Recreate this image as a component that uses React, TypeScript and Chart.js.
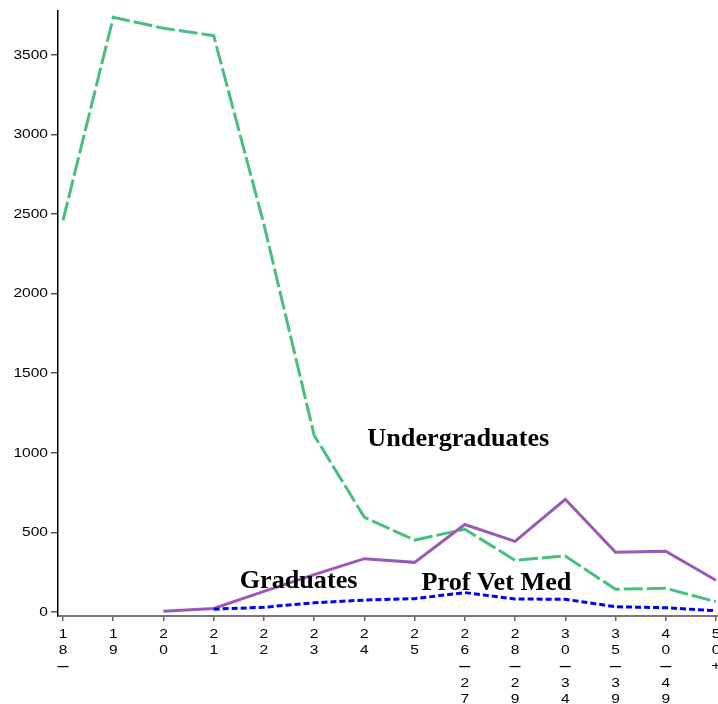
import React, { useEffect, useRef } from "react";
import { Chart, registerables } from "chart.js";

Chart.register(...registerables);

const categories = ["18-", "19", "20", "21", "22", "23", "24", "25", "26-27", "28-29", "30-34", "35-39", "40-49", "50+"];
const undergraduates = [2460, 3735, 3667, 3620, 2435, 1110, 595, 452, 520, 325, 352, 143, 149, 65];
const graduates: (number | null)[] = [null, null, 5, 22, 130, 235, 335, 312, 550, 444, 708, 375, 382, 200];
const profVetMed: (number | null)[] = [null, null, null, 18, 30, 58, 75, 84, 122, 82, 80, 33, 27, 8];
const yTicks = [0, 500, 1000, 1500, 2000, 2500, 3000, 3500];

const annotationTexts = ["Undergraduates", "Graduates", "Prof Vet Med"];
const annotationX = [7.87, 4.69, 8.63];
const annotationY = [1040, 150, 137];

const toPoints = (arr: (number | null)[]) => arr.map((v, i) => ({ x: i, y: v }));

const DASH = "\u2014";
const labelFor = (v: number): string[] => {
  const c = categories[Math.round(v)];
  if (c === undefined) return [];
  return c.replace("-", DASH).split("");
};

const TICK_FONT = '13.5px "Liberation Sans", Arial, sans-serif';
const DASH_FONT = 'bold 13px "Liberation Sans", Arial, sans-serif';
const STRETCH = 1.15;
const DASH_STRETCH = 0.85;
const LINE_H = 16.3;

const annotationPlugin = {
  id: "textAnnotations",
  afterDatasetsDraw(chart: any) {
    const { ctx, scales } = chart;
    ctx.save();
    ctx.font = 'bold 26.2px "Liberation Serif"';
    ctx.fillStyle = "#000";
    ctx.textAlign = "center";
    ctx.textBaseline = "alphabetic";
    annotationTexts.forEach((t, i) => {
      ctx.fillText(t, scales.x.getPixelForValue(annotationX[i]), scales.y.getPixelForValue(annotationY[i]));
    });
    ctx.restore();
  },
};

const tickLabelPlugin = {
  id: "stretchedTickLabels",
  afterDraw(chart: any) {
    const { ctx, scales, chartArea } = chart;
    const xs = scales.x;
    const ys = scales.y;
    ctx.save();
    ctx.fillStyle = "#000";
    ctx.textBaseline = "middle";
    xs.ticks.forEach((t: any, i: number) => {
      const px = xs.getPixelForTick(i);
      labelFor(t.value).forEach((ch, j) => {
        const isDash = ch === DASH;
        ctx.save();
        ctx.translate(px, xs.top + 18 + j * LINE_H);
        ctx.scale(isDash ? DASH_STRETCH : STRETCH, 1);
        ctx.font = isDash ? DASH_FONT : TICK_FONT;
        ctx.textAlign = "center";
        ctx.fillText(ch, 0, 0);
        ctx.restore();
      });
    });
    ys.ticks.forEach((t: any, i: number) => {
      const py = ys.getPixelForTick(i);
      ctx.save();
      ctx.translate(chartArea.left - 10, py);
      ctx.scale(STRETCH, 1);
      ctx.font = TICK_FONT;
      ctx.textAlign = "right";
      ctx.fillText(String(t.value), 0, 0);
      ctx.restore();
    });
    ctx.restore();
  },
};

export default function App() {
  const ref = useRef<HTMLCanvasElement | null>(null);
  useEffect(() => {
    if (!ref.current) return;
    const chart = new Chart(ref.current, {
      type: "line",
      data: {
        datasets: [
          {
            label: "Prof Vet Med",
            data: toPoints(profVetMed),
            borderColor: "#0000ff",
            borderWidth: 3,
            borderDash: [6, 3],
            pointRadius: 0,
            tension: 0,
            order: 0,
          },
          {
            label: "Graduates",
            data: toPoints(graduates),
            borderColor: "#9b59b6",
            borderWidth: 3,
            pointRadius: 0,
            tension: 0,
            order: 1,
          },
          {
            label: "Undergraduates",
            data: toPoints(undergraduates),
            borderColor: "#47c07f",
            borderWidth: 3,
            borderDash: [19, 4],
            pointRadius: 0,
            tension: 0,
            order: 2,
          },
        ],
      } as any,
      options: {
        animation: false,
        responsive: false,
        layout: { padding: { top: 11, right: 34, left: 0, bottom: 0 } },
        plugins: { legend: { display: false }, tooltip: { enabled: false } },
        scales: {
          x: {
            type: "linear",
            min: -0.1,
            max: 13.2,
            afterBuildTicks: (s: any) => {
              s.ticks = categories.map((_, i) => ({ value: i }));
            },
            afterFit: (s: any) => {
              s.height = 88;
            },
            ticks: { display: false },
            grid: { drawOnChartArea: false, drawTicks: true, tickLength: 5, color: "#666", lineWidth: 1.5 },
            border: { color: "#777", width: 2 },
          },
          y: {
            type: "linear",
            min: -25,
            max: 3775,
            afterBuildTicks: (s: any) => {
              s.ticks = yTicks.map((v) => ({ value: v }));
            },
            afterFit: (s: any) => {
              s.width = 58;
            },
            ticks: { display: false },
            grid: { drawOnChartArea: false, drawTicks: true, tickLength: 7, color: "#555", lineWidth: 1.5 },
            border: { color: "#000", width: 1.5 },
          },
        },
      } as any,
      plugins: [annotationPlugin, tickLabelPlugin],
    });
    return () => chart.destroy();
  }, []);
  return (
    <div style={{ position: "fixed", left: 0, top: 0, width: 718, height: 704, overflow: "hidden", background: "#fff" }}>
      <canvas ref={ref} width={760} height={704} style={{ display: "block", width: 760, height: 704 }} />
    </div>
  );
}
